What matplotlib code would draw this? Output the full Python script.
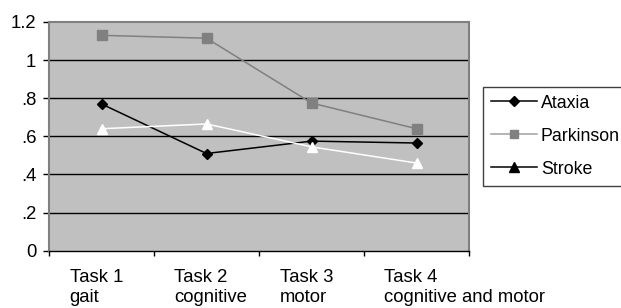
import matplotlib
matplotlib.use("Agg")
import matplotlib.pyplot as plt
from matplotlib.lines import Line2D
from matplotlib.transforms import ScaledTranslation

plt.rcParams['font.family'] = ['Liberation Sans', 'DejaVu Sans']

categories = ["Task 1\ngait", "Task 2\ncognitive", "Task 3\nmotor", "Task 4\ncognitive and motor"]
ataxia = [0.77, 0.51, 0.575, 0.565]
parkinson = [1.13, 1.115, 0.775, 0.64]
stroke = [0.64, 0.665, 0.545, 0.46]
yticks = [0, 0.2, 0.4, 0.6, 0.8, 1.0, 1.2]
ytick_labels = ["0", ".2", ".4", ".6", ".8", "1", "1.2"]

W, H = 621, 308
fig = plt.figure(figsize=(W / 100, H / 100), dpi=100)
ax = fig.add_axes([49 / W, 1 - 250.7 / H, (469 - 49) / W, (250.7 - 22) / H])
ax.set_facecolor('#C0C0C0')

x = list(range(1, len(categories) + 1))
ax.plot(x, ataxia, color='black', lw=1.1, marker='D', ms=5.2, mfc='black', mec='black', zorder=3)
ax.plot(x, parkinson, color='#808080', lw=1.1, marker='s', ms=7, mfc='#808080', mec='#808080', zorder=3)
ax.plot(x, stroke, color='white', lw=1.1, marker='^', ms=7.5, mfc='white', mec='white', zorder=3)

ax.set_xlim(0.5, len(categories) + 0.5)
ax.set_ylim(0, 1.2)
ax.set_yticks(yticks)
ax.set_yticklabels(ytick_labels)
for yv in yticks[1:-1]:
    ax.axhline(yv, color='black', lw=1.0, zorder=1)

ax.set_xticks(x)
ax.set_xticklabels(categories, ha='left', va='top', linespacing=1.2)
ax.tick_params(axis='x', which='major', length=0, pad=13.5)
ax.set_xticks([i + 0.5 for i in range(len(categories) + 1)], minor=True)
ax.tick_params(axis='x', which='minor', length=3.6, width=1, color='black', direction='out')
ax.tick_params(axis='y', length=4.3, width=1, color='black', direction='out', pad=4.8)
ax.tick_params(labelsize=13.3)
offset = ScaledTranslation(-32 / 100, 0, fig.dpi_scale_trans)
for lab in ax.get_xticklabels():
    lab.set_transform(lab.get_transform() + offset)

for s in ['left', 'top', 'right']:
    ax.spines[s].set_color('#808080')
    ax.spines[s].set_linewidth(1.5)
ax.spines['bottom'].set_color('black')
ax.spines['bottom'].set_linewidth(1.0)

handles = [
    Line2D([], [], color='black', lw=1.1, marker='D', ms=5.2, mfc='black', mec='black'),
    Line2D([], [], color='#A0A0A0', lw=1.1, marker='s', ms=6, mfc='#808080', mec='#808080'),
    Line2D([], [], color='black', lw=1.1, marker='^', ms=6.5, mfc='black', mec='black'),
]
leg = fig.legend(handles, ['Ataxia', 'Parkinson', 'Stroke'],
                 loc='upper left', bbox_to_anchor=(482.7 / W, 1 - 86.7 / H),
                 bbox_transform=fig.transFigure, fontsize=12.8, frameon=True,
                 fancybox=False, edgecolor='#404040', framealpha=1,
                 handlelength=2.6, handletextpad=0.22, labelspacing=0.9,
                 borderpad=0.45, borderaxespad=0)
leg.get_frame().set_linewidth(1.0)

fig.savefig('out.png', dpi=100)
